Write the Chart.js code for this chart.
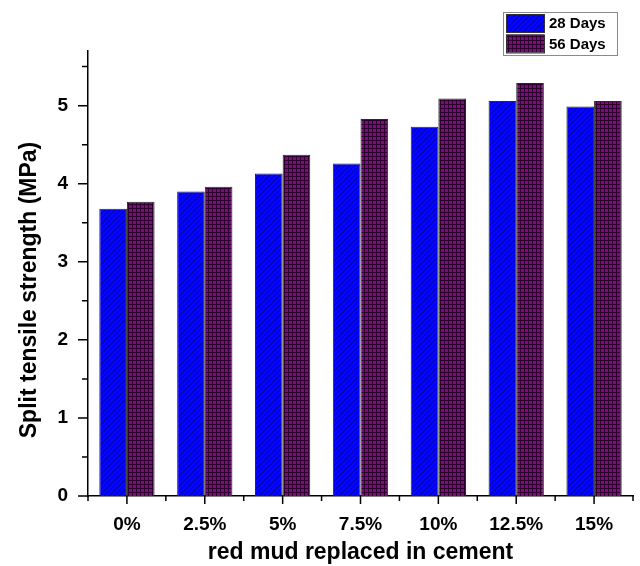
<!DOCTYPE html>
<html>
<head>
<meta charset="utf-8">
<script src="https://cdn.jsdelivr.net/npm/chart.js@4.4.1/dist/chart.umd.min.js"></script>
<style>
  html, body { margin: 0; padding: 0; background: #fff; }
  #wrap { width: 640px; height: 566px; }
</style>
</head>
<body>
<div id="wrap"><canvas id="c" width="640" height="566"></canvas></div>
<script>
// Split tensile strength (MPa) by red mud replacement level
const categories = ['0%', '2.5%', '5%', '7.5%', '10%', '12.5%', '15%'];
const days28 = [3.68, 3.90, 4.13, 4.26, 4.73, 5.06, 4.99];
const days56 = [3.77, 3.96, 4.37, 4.83, 5.09, 5.29, 5.06];
const seriesNames = ['28 Days', '56 Days'];
const yTickValues = [0, 1, 2, 3, 4, 5];
const yMinorValues = [0.5, 1.5, 2.5, 3.5, 4.5, 5.5];
const yTitle = 'Split tensile strength (MPa)';
const xTitle = 'red mud replaced in cement';

const FONT = '"Liberation Sans", Arial, Helvetica, sans-serif';
const canvas = document.getElementById('c');
const ctx = canvas.getContext('2d');

// blue fill with diagonal hatching
function makeHatch() {
  const t = document.createElement('canvas');
  t.width = 5; t.height = 5;
  const g = t.getContext('2d');
  g.fillStyle = '#0505ff';
  g.fillRect(0, 0, 5, 5);
  g.strokeStyle = '#0000a0';
  g.lineWidth = 0.9;
  g.beginPath();
  g.moveTo(-1, 6); g.lineTo(6, -1);
  g.moveTo(-1, 1); g.lineTo(1, -1);
  g.moveTo(4, 6); g.lineTo(6, 4);
  g.stroke();
  return ctx.createPattern(t, 'repeat');
}
// purple fill with a fine square grid
function makeGrid() {
  const t = document.createElement('canvas');
  t.width = 4; t.height = 4;
  const g = t.getContext('2d');
  g.fillStyle = '#7c0c7c';
  g.fillRect(0, 0, 4, 4);
  g.fillStyle = '#2c002c';
  g.fillRect(0, 0, 4, 1);
  g.fillRect(0, 0, 1, 4);
  return ctx.createPattern(t, 'repeat');
}
const fill28 = makeHatch();
const fill56 = makeGrid();

const axisDecor = {
  id: 'axisDecor',
  afterDraw(chart) {
    const c = chart.ctx;
    const { x, y } = chart.scales;
    const area = chart.chartArea;
    c.save();
    c.strokeStyle = '#000';
    c.lineWidth = 1.5;
    c.beginPath();
    // y major / minor ticks
    yTickValues.forEach(v => {
      const py = y.getPixelForValue(v);
      c.moveTo(area.left - 10, py); c.lineTo(area.left, py);
    });
    yMinorValues.forEach(v => {
      const py = y.getPixelForValue(v);
      c.moveTo(area.left - 6, py); c.lineTo(area.left, py);
    });
    // x major ticks at categories, minor ticks at category boundaries
    const n = categories.length;
    for (let i = 0; i < n; i++) {
      const px = x.getPixelForValue(i);
      c.moveTo(px, area.bottom); c.lineTo(px, area.bottom + 8);
    }
    for (let i = 0; i <= n; i++) {
      const px = x.getPixelForValue(i - 0.5);
      c.moveTo(px, area.bottom); c.lineTo(px, area.bottom + 5);
    }
    c.stroke();

    // rotated y-axis title
    c.fillStyle = '#000';
    c.font = 'bold 23px ' + FONT;
    c.textAlign = 'center';
    c.textBaseline = 'middle';
    c.translate(30, 290);
    c.rotate(-Math.PI / 2);
    c.fillText(yTitle, 0, 0);
    c.restore();

    // framed legend
    c.save();
    const lx = 503, ly = 12, lw = 114, lh = 43;
    c.fillStyle = '#fff';
    c.fillRect(lx, ly, lw, lh);
    c.strokeStyle = '#8a8a8a';
    c.lineWidth = 1;
    c.strokeRect(lx + 0.5, ly + 0.5, lw, lh);
    chart.data.datasets.forEach((ds, i) => {
      const sy = 14 + i * 20.5;
      c.fillStyle = ds.backgroundColor;
      c.fillRect(506, sy, 38, 18);
      c.strokeStyle = '#333';
      c.strokeRect(506.5, sy + 0.5, 38, 18);
      c.fillStyle = '#000';
      c.font = 'bold 15px ' + FONT;
      c.textAlign = 'left';
      c.textBaseline = 'middle';
      c.fillText(ds.label, 549, sy + 10);
    });
    c.restore();
  }
};

new Chart(ctx, {
  type: 'bar',
  data: {
    labels: categories,
    datasets: [
      { label: seriesNames[0], data: days28, backgroundColor: fill28, borderColor: '#2a2a2a', borderWidth: 1 },
      { label: seriesNames[1], data: days56, backgroundColor: fill56, borderColor: '#2a2a2a', borderWidth: 1 }
    ]
  },
  options: {
    responsive: false,
    animation: false,
    layout: { padding: { left: 0, right: 7, top: 51, bottom: 0 } },
    datasets: { bar: { categoryPercentage: 0.71, barPercentage: 1.0 } },
    plugins: { legend: { display: false }, tooltip: { enabled: false } },
    scales: {
      x: {
        grid: { display: false, drawTicks: false },
        border: { display: true, color: '#000', width: 1.5 },
        ticks: { padding: 17, color: '#000', font: { family: FONT, size: 19, weight: 'bold' } },
        title: { display: true, text: xTitle, color: '#000', padding: 0,
                 font: { family: FONT, size: 23, weight: 'bold' } },
        afterFit(s) { s.height = 70; }
      },
      y: {
        min: 0, max: 5.7,
        grid: { display: false, drawTicks: false },
        border: { display: true, color: '#000', width: 1.5 },
        ticks: { padding: 20, color: '#000', font: { family: FONT, size: 19, weight: 'bold' } },
        afterBuildTicks(s) { s.ticks = yTickValues.map(v => ({ value: v })); },
        afterFit(s) { s.width = 88; }
      }
    }
  },
  plugins: [axisDecor]
});
</script>
</body>
</html>
